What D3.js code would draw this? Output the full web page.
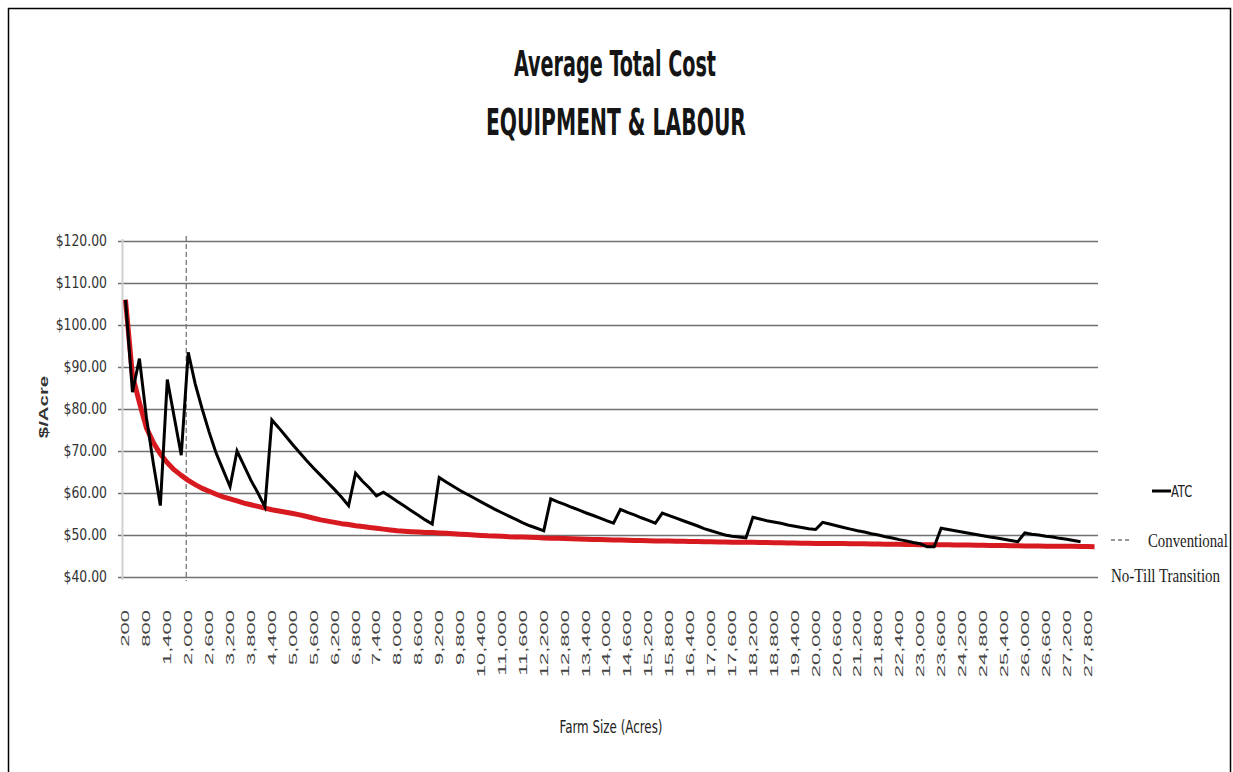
<!DOCTYPE html>
<html>
<head>
<meta charset="utf-8">
<script src="https://cdn.jsdelivr.net/npm/d3@7"></script>
<style>
  html, body { margin: 0; padding: 0; background: #fff; }
  svg { display: block; }
</style>
</head>
<body>
<svg id="chart" width="1233" height="772"></svg>
<script>
// Farm size categories (acres)
const categories = [
  200, 400, 600, 800, 1000, 1200, 1400, 1600, 1800, 2000,
  2200, 2400, 2600, 2800, 3000, 3200, 3400, 3600, 3800, 4000,
  4200, 4400, 4600, 4800, 5000, 5200, 5400, 5600, 5800, 6000,
  6200, 6400, 6600, 6800, 7000, 7200, 7400, 7600, 7800, 8000,
  8200, 8400, 8600, 8800, 9000, 9200, 9400, 9600, 9800, 10000,
  10200, 10400, 10600, 10800, 11000, 11200, 11400, 11600, 11800, 12000,
  12200, 12400, 12600, 12800, 13000, 13200, 13400, 13600, 13800, 14000,
  14200, 14400, 14600, 14800, 15000, 15200, 15400, 15600, 15800, 16000,
  16200, 16400, 16600, 16800, 17000, 17200, 17400, 17600, 17800, 18000,
  18200, 18400, 18600, 18800, 19000, 19200, 19400, 19600, 19800, 20000,
  20200, 20400, 20600, 20800, 21000, 21200, 21400, 21600, 21800, 22000,
  22200, 22400, 22600, 22800, 23000, 23200, 23400, 23600, 23800, 24000,
  24200, 24400, 24600, 24800, 25000, 25200, 25400, 25600, 25800, 26000,
  26200, 26400, 26600, 26800, 27000, 27200, 27400, 27600, 27800, 28000
];

// Average total cost, equipment & labour ($/acre)
const atc = [
  106.0, 84.0, 92.0, 78.0, 67.0, 57.0, 87.0, 78.0, 69.0, 93.5,
  86.0, 80.0, 74.5, 69.5, 65.5, 61.5, 70.0, 66.5, 63.0, 60.0,
  56.7, 77.4, 75.5, 73.5, 71.5, 69.6, 67.7, 65.9, 64.2, 62.5,
  60.8, 59.0, 57.0, 64.7, 62.8, 61.2, 59.3, 60.2, 59.1, 58.0,
  56.9, 55.8, 54.7, 53.6, 52.6, 63.7, 62.6, 61.6, 60.6, 59.7,
  58.8, 57.9, 57.0, 56.1, 55.3, 54.5, 53.7, 52.9, 52.2, 51.6,
  51.0, 58.6, 57.9, 57.3, 56.6, 56.0, 55.3, 54.7, 54.1, 53.4,
  52.8, 56.1, 55.4, 54.8, 54.1, 53.5, 52.8, 55.2, 54.6, 54.0,
  53.4, 52.8, 52.2, 51.5, 51.0, 50.5, 50.0, 49.7, 49.5, 49.3,
  54.2, 53.8, 53.4, 53.1, 52.8, 52.4, 52.1, 51.8, 51.5, 51.3,
  53.0, 52.6, 52.2, 51.8, 51.4, 51.0, 50.7, 50.3, 50.0, 49.6,
  49.3, 48.9, 48.6, 48.2, 47.9, 47.2, 47.2, 51.6, 51.3, 51.0,
  50.7, 50.4, 50.1, 49.8, 49.5, 49.3, 49.0, 48.7, 48.4, 50.5,
  50.2, 50.0, 49.7, 49.5, 49.2, 49.0, 48.7, 48.4
];

// Smoothed cost curve ($/acre)
const atcTrend = [
  106.0, 88.0, 81.5, 75.5, 72.0, 69.3, 67.2, 65.5, 64.2, 63.0,
  62.0, 61.1, 60.4, 59.7, 59.1, 58.6, 58.1, 57.6, 57.2, 56.8,
  56.4, 56.0, 55.7, 55.4, 55.1, 54.8, 54.4, 54.0, 53.6, 53.3,
  53.0, 52.7, 52.5, 52.2, 52.0, 51.8, 51.6, 51.4, 51.2, 51.0,
  50.9, 50.8, 50.7, 50.6, 50.6, 50.5, 50.4, 50.3, 50.2, 50.1,
  50.0, 49.9, 49.8, 49.75, 49.7, 49.6, 49.55, 49.5, 49.45, 49.4,
  49.3, 49.25, 49.2, 49.15, 49.1, 49.05, 49.0, 48.95, 48.9, 48.85,
  48.8, 48.8, 48.75, 48.7, 48.7, 48.65, 48.6, 48.6, 48.55, 48.5,
  48.5, 48.45, 48.45, 48.4, 48.4, 48.35, 48.35, 48.3, 48.3, 48.25,
  48.25, 48.2, 48.2, 48.15, 48.15, 48.1, 48.1, 48.05, 48.05, 48.0,
  48.0, 48.0, 47.95, 47.95, 47.9, 47.9, 47.9, 47.85, 47.85, 47.8,
  47.8, 47.8, 47.75, 47.75, 47.7, 47.7, 47.7, 47.65, 47.65, 47.6,
  47.6, 47.6, 47.55, 47.55, 47.5, 47.5, 47.5, 47.45, 47.45, 47.4,
  47.4, 47.4, 47.35, 47.35, 47.3, 47.3, 47.3, 47.25, 47.25, 47.2
];

// Axis tick values and labels
const yTicks = [40, 50, 60, 70, 80, 90, 100, 110, 120];
const xTickLabels = [
  "200", "800", "1,400", "2,000", "2,600", "3,200", "3,800", "4,400", "5,000", "5,600",
  "6,200", "6,800", "7,400", "8,000", "8,600", "9,200", "9,800", "10,400", "11,000", "11,600",
  "12,200", "12,800", "13,400", "14,000", "14,600", "15,200", "15,800", "16,400", "17,000", "17,600",
  "18,200", "18,800", "19,400", "20,000", "20,600", "21,200", "21,800", "22,400", "23,000", "23,600",
  "24,200", "24,800", "25,400", "26,000", "26,600", "27,200", "27,800"
];
const transitionAcres = 2000;

const svg = d3.select("#chart");
const plot = { left: 122, right: 1098, top: 241, bottom: 577 };

const x = d3.scaleBand().domain(categories).range([plot.left, plot.right]);
const y = d3.scaleLinear().domain([40, 120]).range([plot.bottom, plot.top]);
const cx = c => x(c) + x.bandwidth() / 2;

// stretch or squeeze a text element along its baseline
function fitWidth(sel, ratio) {
  sel.each(function () {
    const w = this.getComputedTextLength();
    d3.select(this).attr("textLength", w * ratio).attr("lengthAdjust", "spacingAndGlyphs");
  });
}

// outer frame
svg.append("rect")
  .attr("x", 8.5).attr("y", 8.5).attr("width", 1222).attr("height", 800)
  .attr("fill", "none").attr("stroke", "#000").attr("stroke-width", 1.5);

// title
const narrowFont = "'Liberation Sans Narrow', 'DejaVu Sans Condensed', 'Open Sans', sans-serif";
svg.append("text").attr("x", 615).attr("y", 76).attr("text-anchor", "middle")
  .style("font-family", narrowFont).style("font-size", "35px").style("font-weight", "bold")
  .style("fill", "#151515")
  .text("Average Total Cost").call(s => s.attr("textLength", 202).attr("lengthAdjust", "spacingAndGlyphs"));
svg.append("text").attr("x", 616).attr("y", 135).attr("text-anchor", "middle")
  .style("font-family", narrowFont).style("font-size", "38px").style("font-weight", "bold")
  .style("fill", "#151515")
  .text("EQUIPMENT & LABOUR").call(s => s.attr("textLength", 260).attr("lengthAdjust", "spacingAndGlyphs"));

// y axis with gridlines
const yAxis = d3.axisLeft(y)
  .tickValues(yTicks)
  .tickFormat(d => "$" + d.toFixed(2))
  .tickSizeInner(-(plot.right - 118))
  .tickSizeOuter(0)
  .tickPadding(11);
const gy = svg.append("g").attr("transform", "translate(118,0)").call(yAxis);
gy.select(".domain").remove();
gy.selectAll(".tick line").attr("stroke", "#707070").attr("stroke-width", 1.4);
gy.selectAll(".tick text")
  .style("font-family", narrowFont)
  .style("font-size", "15px").style("fill", "#333")
  .call(fitWidth, 0.92);

// vertical axis line
svg.append("line")
  .attr("x1", plot.left + 0.5).attr("x2", plot.left + 0.5)
  .attr("y1", plot.top - 2).attr("y2", plot.bottom + 3)
  .attr("stroke", "#cfcfcf").attr("stroke-width", 2);

// x axis (category labels, rotated)
const xTickValues = xTickLabels.map(s => +s.replace(/,/g, ""));
const xAxis = d3.axisBottom(x).tickValues(xTickValues)
  .tickFormat((d, i) => xTickLabels[i]).tickSize(0).tickPadding(0);
const gx = svg.append("g").attr("transform", `translate(0,${plot.bottom})`).call(xAxis);
gx.select(".domain").remove();
gx.selectAll(".tick text")
  .attr("transform", "rotate(-90)")
  .attr("text-anchor", "end")
  .attr("x", -33).attr("y", 0).attr("dy", "0.36em")
  .style("font-family", "Arial, 'Liberation Sans', sans-serif")
  .style("font-size", "11px").style("fill", "#444")
  .call(fitWidth, 2.0);

// axis titles
svg.append("text")
  .attr("transform", "translate(48,407) rotate(-90)")
  .attr("text-anchor", "middle")
  .style("font-family", "Arial, 'Liberation Sans', sans-serif")
  .style("font-size", "12px").style("font-weight", "bold").style("fill", "#333")
  .text("$/Acre").call(fitWidth, 1.7);
svg.append("text").attr("x", 611).attr("y", 733).attr("text-anchor", "middle")
  .style("font-family", narrowFont).style("font-size", "18px").style("fill", "#222")
  .text("Farm Size (Acres)").call(s => s.attr("textLength", 103).attr("lengthAdjust", "spacingAndGlyphs"));

// conventional / no-till transition marker
svg.append("line")
  .attr("x1", cx(transitionAcres) - 2).attr("x2", cx(transitionAcres) - 2)
  .attr("y1", 236).attr("y2", 581)
  .attr("stroke", "#777").attr("stroke-width", 1.3).attr("stroke-dasharray", "5,3");

// series lines
const line = d3.line().x((d, i) => cx(categories[i])).y(d => y(d));
svg.append("path").datum(atcTrend).attr("d", line)
  .attr("fill", "none").attr("stroke", "#d71920").attr("stroke-width", 5)
  .attr("stroke-linejoin", "round");
svg.append("path").datum(atc).attr("d", line)
  .attr("fill", "none").attr("stroke", "#000").attr("stroke-width", 3)
  .attr("stroke-linejoin", "miter");

// legend
const serif = "'Liberation Serif', 'Times New Roman', serif";
const legend = svg.append("g");
legend.append("line").attr("x1", 1152).attr("x2", 1171).attr("y1", 491).attr("y2", 491)
  .attr("stroke", "#000").attr("stroke-width", 3);
legend.append("text").attr("transform", "translate(1171,497) scale(0.8,1)")
  .style("font-family", narrowFont).style("font-size", "16px").style("fill", "#222")
  .text("ATC");
legend.append("line").attr("x1", 1111).attr("x2", 1130).attr("y1", 540).attr("y2", 540)
  .attr("stroke", "#777").attr("stroke-width", 1.5).attr("stroke-dasharray", "4,3");
legend.append("text").attr("transform", "translate(1148,547) scale(0.78,1)")
  .style("font-family", serif).style("font-size", "19px").style("fill", "#222")
  .text("Conventional");
legend.append("text").attr("transform", "translate(1111,582) scale(0.79,1)")
  .style("font-family", serif).style("font-size", "19px").style("fill", "#222")
  .text("No-Till Transition");
</script>
</body>
</html>
